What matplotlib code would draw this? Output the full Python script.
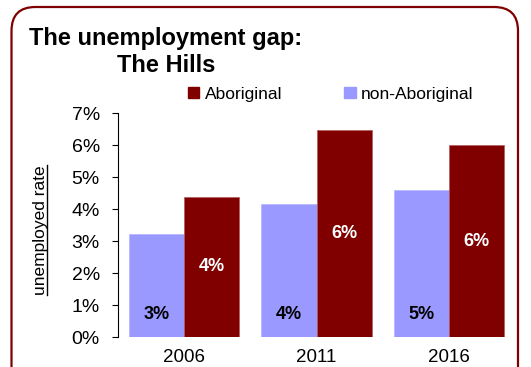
import matplotlib
matplotlib.use("Agg")
import matplotlib.pyplot as plt
from matplotlib.patches import FancyBboxPatch, Patch
from matplotlib.lines import Line2D
import numpy as np

years = ["2006", "2011", "2016"]
non_aboriginal = [3.22, 4.15, 4.58]
aboriginal = [4.38, 6.47, 5.99]
y_ticks = [0, 1, 2, 3, 4, 5, 6, 7]

DARK_RED = "#800000"
LILAC = "#9999ff"

plt.rcParams["font.family"] = ["Liberation Sans", "DejaVu Sans"]

W, H = 531, 367
fig = plt.figure(figsize=(W / 100, H / 100), dpi=100, facecolor="white")

# rounded frame around the whole chart
frame = FancyBboxPatch((11.5 / W, -0.2), (518 - 11.5) / W, (H - 7 + 0.2 * H) / H,
                       boxstyle="round,pad=0,rounding_size=0.045",
                       mutation_aspect=W / H, transform=fig.transFigure,
                       facecolor="none", edgecolor=DARK_RED, linewidth=1.6)
fig.patches.append(frame)

ax = fig.add_axes([118 / W, 30 / H, 397 / W, 224 / H])
ax.set_facecolor("none")

x = np.arange(len(years))
width = 0.417
bars_non = ax.bar(x - width / 2, non_aboriginal, width, color=LILAC,
                  edgecolor="#b3b3ff", linewidth=0.5)
bars_abo = ax.bar(x + width / 2, aboriginal, width, color=DARK_RED,
                  edgecolor="#b35959", linewidth=0.5)

# value labels
for xi, v in zip(x, non_aboriginal):
    ax.text(xi - width / 2, 0.7, f"{round(v):.0f}%", ha="center", va="center",
            fontsize=13, fontweight="bold", color="black")
for xi, v in zip(x, aboriginal):
    ax.text(xi + width / 2, v / 2, f"{round(v):.0f}%", ha="center", va="center",
            fontsize=13, fontweight="bold", color="white")

ax.set_xlim(-0.5, 2.5)
ax.set_ylim(0, 7)
ax.set_yticks(y_ticks)
ax.set_yticklabels([f"{t}%" for t in y_ticks], fontsize=14)
ax.set_xticks(x)
ax.set_xticklabels(years, fontsize=13.5)
ax.tick_params(axis="x", length=0, pad=9)
ax.tick_params(axis="y", length=4, width=0.8, pad=9)
for s in ["top", "right", "bottom"]:
    ax.spines[s].set_visible(False)
ax.spines["left"].set_linewidth(0.8)

handles = [Patch(color=DARK_RED, label="Aboriginal"),
           Patch(color=LILAC, label="non-Aboriginal")]
fig.legend(handles=handles, loc="center left", bbox_to_anchor=(188 / W, 1 - 94 / H),
           ncol=2, frameon=False, fontsize=12.5, handlelength=0.65,
           handleheight=0.65, handletextpad=0.3, columnspacing=3.6,
           borderpad=0, borderaxespad=0)

fig.text(166 / W, 1 - 27 / H, "The unemployment gap:\nThe Hills", ha="center",
         va="top", fontsize=17, fontweight="bold", linespacing=1.22)

ylab = fig.text(40 / W, 1 - 230 / H, "unemployed rate", rotation=90,
                ha="center", va="center", fontsize=12.5)

# underline the y label (baseline sits on the right when rotated)
fig.canvas.draw()
bb = ylab.get_window_extent(fig.canvas.get_renderer())
inv = fig.transFigure.inverted()
(x0, y0), (x1, y1) = inv.transform([(bb.x1 - 1, bb.y0), (bb.x1 - 1, bb.y1)])
fig.add_artist(Line2D([x0, x1], [y0, y1], transform=fig.transFigure,
                      color="black", linewidth=1))

fig.savefig("out.png", dpi=100)
